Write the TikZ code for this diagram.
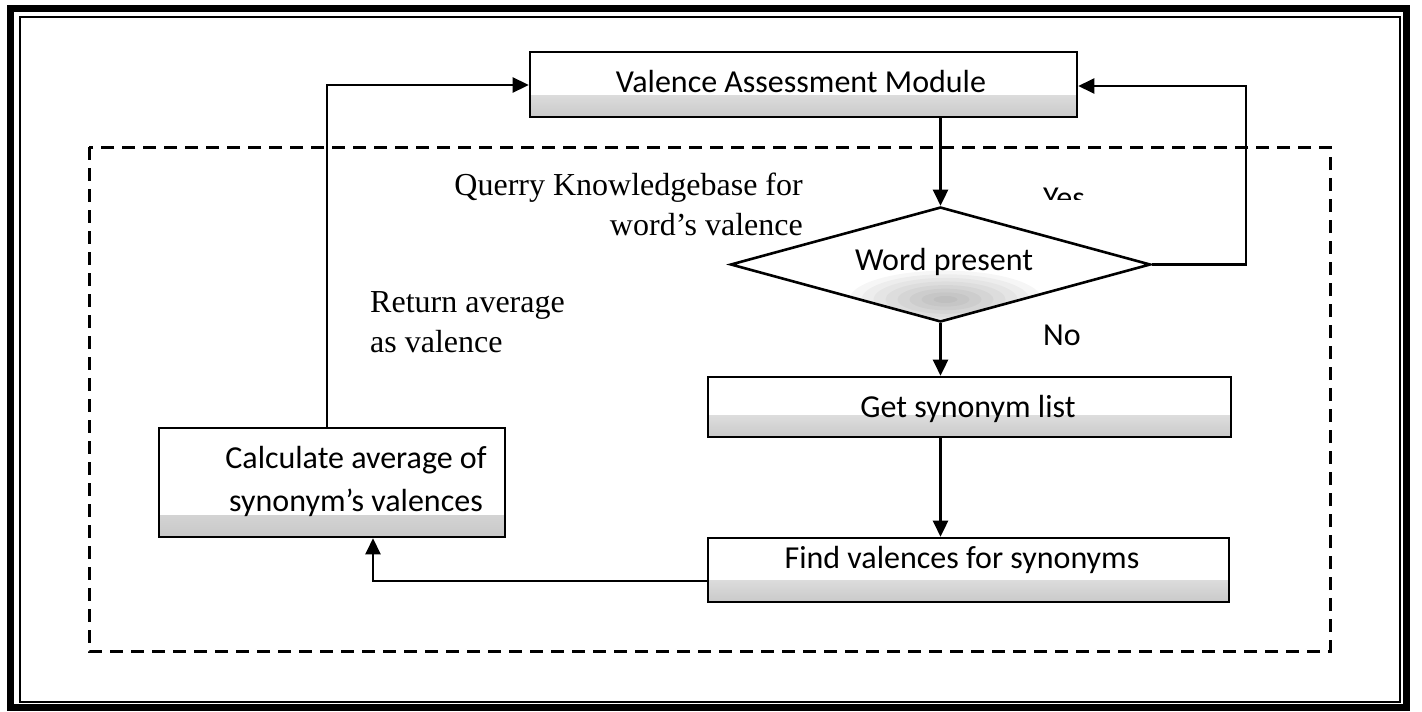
\documentclass[tikz,border=0pt]{standalone}
\usepackage{fontspec}
\setmainfont{Liberation Serif}
\newfontfamily\boxfont{Carlito}
\usetikzlibrary{arrows.meta,shapes.geometric,calc}

\begin{document}
\begin{tikzpicture}[x=1pt,y=-1pt,
  boxnode/.style={draw,line width=2.6pt,rectangle,inner sep=0pt,
    path picture={\shade[top color=white,bottom color=black!22]
      ([yshift=-3pt]path picture bounding box.south west) rectangle
      ([yshift=22pt]path picture bounding box.south east);}},
  decision/.style={draw,line width=2.6pt,diamond,inner sep=0pt,aspect=3.65,
    path picture={\foreach \k in {1,...,8}{
      \fill[black,opacity=0.035] ([xshift=5pt,yshift=22pt]path picture bounding box.south)
        ellipse [x radius={12pt*\k}, y radius={3.6pt*\k}];}}},
  boxtext/.style={inner sep=0pt,anchor=base,font=\boxfont\fontsize{32}{40}\selectfont},
  serif/.style={inner sep=0pt,font=\fontsize{32}{40}\selectfont},
  arr/.style={line width=2.6pt,line join=miter,-{Triangle[length=16pt,width=15pt]}},
]
\useasboundingbox (0,0) rectangle (1422,712);

% double frame round the page
\draw[line width=7pt] (10,8) rectangle (1406,707);
\draw[line width=2pt] (20,17) rectangle (1400,702);

% dashed boundary of the lookup process
\draw[line width=3pt,dash pattern=on 13pt off 8pt] (89,147) rectangle (1330,651);

% process boxes
\node[boxnode,minimum width=547pt,minimum height=65pt] (vam) at (803.5,84.5) {};
\node[decision,minimum width=420pt,minimum height=115pt] (dia) at (940.5,264.5) {};
\node[boxnode,minimum width=523pt,minimum height=60pt] (get) at (969.5,407) {};
\node[boxnode,minimum width=521pt,minimum height=64pt] (find) at (968.5,570) {};
\node[boxnode,minimum width=346pt,minimum height=109pt] (calc) at (332,482.5) {};

% box texts
\node[boxtext] (tvam) at (801,92) {Valence Assessment Module};
\node[boxtext] (tdia) at (944,270) {Word present};
\node[boxtext] (tget) at (968,417) {Get synonym list};
\node[boxtext] (tfind) at (962,568) {Find valences for synonyms};
\node[boxtext] (tcalc1) at (356,468) {Calculate average of};
\node[boxtext] (tcalc2) at (356,511) {synonym’s valences};

% branch labels
\begin{scope}
  \clip (1020,170) rectangle (1110,199);
  \node[boxtext] (tyes) at (1064,208) {Yes};
\end{scope}
\node[boxtext] (tno) at (1062,345) {No};

% step descriptions
\node[serif,anchor=base east] (q1) at (803,195) {Querry Knowledgebase for};
\node[serif,anchor=base east] (q2) at (803,235) {word’s valence};
\node[serif,anchor=base west] (r1) at (370,312) {Return average};
\node[serif,anchor=base west] (r2) at (370,352) {as valence};

% helper points for the routed connectors
\coordinate (ry) at (1246,86);
\coordinate (ly) at (327,85);
\coordinate (fy) at (373,581);

% connectors
\draw[arr] (vam.south -| dia.north) -- (dia.north);
\draw[arr] (dia.south) -- (dia.south |- get.north);
\draw[arr] (dia.south |- get.south) -- (dia.south |- find.north);
\draw[arr] (dia.east) -| (ry) -- (vam.east |- ry);
\draw[arr] (find.west |- fy) -- (fy) -- (fy |- calc.south);
\draw[arr] (ly |- calc.north) -- (ly) -- (vam.west |- ly);
\end{tikzpicture}
\end{document}
